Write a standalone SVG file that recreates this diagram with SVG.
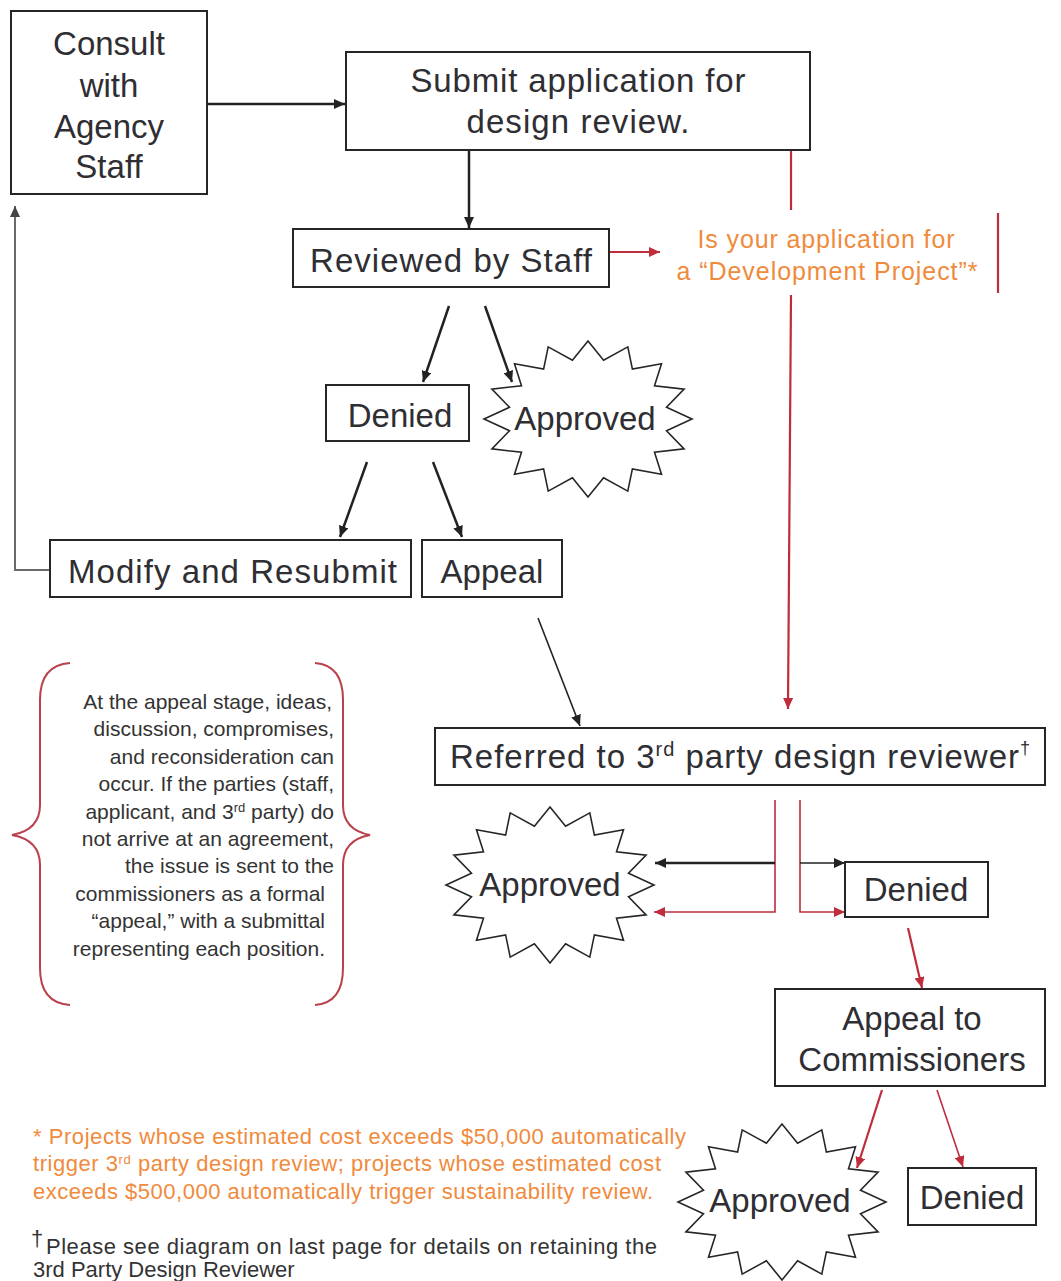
<svg xmlns="http://www.w3.org/2000/svg" width="1061" height="1281" viewBox="0 0 1061 1281">
<style>
.box{fill:#fff;stroke:#262626;stroke-width:2}
.t{font-family:"Liberation Sans",Arial,sans-serif;fill:#2e2e33;font-size:33px}
.c{text-anchor:middle}
.o{font-family:"Liberation Sans",Arial,sans-serif;fill:#f08a3c;font-size:25px}
.n{font-family:"Liberation Sans",Arial,sans-serif;fill:#333;font-size:21px;text-anchor:end}
.f{font-family:"Liberation Sans",Arial,sans-serif;font-size:22px}
.k{fill:none;stroke:#222;stroke-width:2.5}
.k1{fill:none;stroke:#222;stroke-width:1.6}
.r{fill:none;stroke:#bf2c3b;stroke-width:2.2}
.r1{fill:none;stroke:#bf2c3b;stroke-width:1.6}
.g{fill:none;stroke:#6a6a6a;stroke-width:2}
.star{fill:#fff;stroke:#262626;stroke-width:1.6}
.brace{fill:none;stroke:#b8414b;stroke-width:2}
</style>
<defs>
<marker id="ah" markerUnits="userSpaceOnUse" markerWidth="12" markerHeight="10" refX="11" refY="5" orient="auto"><path d="M0,0 L11,5 L0,10 z" fill="#222"/></marker>
<marker id="ahr" markerUnits="userSpaceOnUse" markerWidth="12" markerHeight="10" refX="11" refY="5" orient="auto"><path d="M0,0 L11,5 L0,10 z" fill="#bf2c3b"/></marker>
<marker id="ahg" markerUnits="userSpaceOnUse" markerWidth="12" markerHeight="10" refX="11" refY="5" orient="auto"><path d="M0,0 L11,5 L0,10 z" fill="#444"/></marker>
<path id="starburst" class="star" d="M0,-78 L15.6,-58.8 L39.8,-72.1 L44.4,-49.9 L73.5,-55.2 L66.5,-33.3 L96.1,-29.9 L78.5,-11.7 L104,0 L78.5,11.7 L96.1,29.9 L66.5,33.3 L73.5,55.2 L44.4,49.9 L39.8,72.1 L15.6,58.8 L0,78 L-15.6,58.8 L-39.8,72.1 L-44.4,49.9 L-73.5,55.2 L-66.5,33.3 L-96.1,29.9 L-78.5,11.7 L-104,0 L-78.5,-11.7 L-96.1,-29.9 L-66.5,-33.3 L-73.5,-55.2 L-44.4,-49.9 L-39.8,-72.1 L-15.6,-58.8 Z"/>
</defs>
<rect width="1061" height="1281" fill="#fff"/>

<g id="connectors">
<line class="k" x1="207" y1="104" x2="345" y2="104" marker-end="url(#ah)"/>
<line class="k" x1="469" y1="150" x2="469" y2="228" marker-end="url(#ah)"/>
<line class="r" x1="609" y1="252" x2="660" y2="252" marker-end="url(#ahr)"/>
<line class="r" x1="791" y1="150" x2="791" y2="210"/>
<line class="r" x1="791" y1="295" x2="788" y2="709" marker-end="url(#ahr)"/>
<line class="r" x1="998" y1="213" x2="998" y2="293"/>
<line class="k" x1="449" y1="306" x2="423" y2="382" marker-end="url(#ah)"/>
<line class="k" x1="485" y1="306" x2="512" y2="382" marker-end="url(#ah)"/>
<line class="k" x1="367" y1="462" x2="340" y2="537" marker-end="url(#ah)"/>
<line class="k" x1="433" y1="462" x2="462" y2="537" marker-end="url(#ah)"/>
<polyline class="g" points="50,570 15,570 15,206" marker-end="url(#ahg)"/>
<line class="k1" x1="538" y1="618" x2="580" y2="726" marker-end="url(#ah)"/>
<polyline class="r1" points="775,800 775,912 654,912" marker-end="url(#ahr)"/>
<polyline class="r1" points="800,800 800,912 845,912" marker-end="url(#ahr)"/>
<line class="k" x1="775" y1="863" x2="655" y2="863" marker-end="url(#ah)"/>
<line class="k1" x1="800" y1="863" x2="845" y2="863" marker-end="url(#ah)"/>
<line class="r" x1="908" y1="928" x2="922" y2="988" marker-end="url(#ahr)"/>
<line class="r" x1="882" y1="1090" x2="857" y2="1168" marker-end="url(#ahr)"/>
<line class="r1" x1="937" y1="1090" x2="963" y2="1167" marker-end="url(#ahr)"/>
</g>

<g id="consult">
<rect class="box" x="11" y="11" width="196" height="183"/>
<text class="t c" x="109" y="55">Consult</text>
<text class="t c" x="109" y="97">with</text>
<text class="t c" x="109" y="138">Agency</text>
<text class="t c" x="109" y="178">Staff</text>
</g>

<g id="submit">
<rect class="box" x="346" y="52" width="464" height="98"/>
<text class="t c" x="578" y="92" textLength="335" lengthAdjust="spacing">Submit application for</text>
<text class="t c" x="578" y="133" textLength="223" lengthAdjust="spacing">design review.</text>
</g>

<g id="reviewed">
<rect class="box" x="293" y="229" width="316" height="58"/>
<text class="t c" x="451" y="272" textLength="282" lengthAdjust="spacing">Reviewed by Staff</text>
</g>

<g id="dev-question">
<text class="o c" x="826" y="248" textLength="257" lengthAdjust="spacing">Is your application for</text>
<text class="o c" x="827" y="280" textLength="301" lengthAdjust="spacing">a “Development Project”*</text>
</g>

<g id="denied1">
<rect class="box" x="326" y="385" width="143" height="56"/>
<text class="t c" x="400" y="427">Denied</text>
</g>

<g id="approved1">
<use href="#starburst" x="588" y="419"/>
<text class="t c" x="585" y="430">Approved</text>
</g>

<g id="modify">
<rect class="box" x="50" y="540" width="361" height="57"/>
<text class="t" x="68" y="583" textLength="329" lengthAdjust="spacing">Modify and Resubmit</text>
</g>

<g id="appeal">
<rect class="box" x="422" y="540" width="140" height="57"/>
<text class="t c" x="492" y="583">Appeal</text>
</g>

<g id="note">
<path class="brace" d="M70,663 Q40,665 40,700 L40,805 Q40,830 12,835 Q40,840 40,865 L40,968 Q40,1003 70,1005"/>
<path class="brace" d="M315,663 Q343,665 343,700 L343,805 Q343,830 370,835 Q343,840 343,865 L343,968 Q343,1003 315,1005"/>
<text class="n" x="332" y="709">At the appeal stage, ideas,</text>
<text class="n" x="334" y="736">discussion, compromises,</text>
<text class="n" x="334" y="764">and reconsideration  can</text>
<text class="n" x="334" y="791">occur.  If the parties (staff,</text>
<text class="n" x="334" y="819">applicant, and 3<tspan font-size="13" dy="-7">rd</tspan><tspan dy="7"> party) do</tspan></text>
<text class="n" x="334" y="846">not arrive at an agreement,</text>
<text class="n" x="334" y="873">the issue is sent to the</text>
<text class="n" x="325" y="901">commissioners as a formal</text>
<text class="n" x="325" y="928">“appeal,” with a submittal</text>
<text class="n" x="325" y="956">representing each position.</text>
</g>

<g id="referred">
<rect class="box" x="435" y="728" width="610" height="57"/>
<text class="t" x="450" y="768" font-size="32" textLength="580" lengthAdjust="spacing">Referred to 3<tspan font-size="20" dy="-12">rd</tspan><tspan dy="12"> party design reviewer</tspan><tspan font-size="18" dy="-14">†</tspan></text>
</g>

<g id="approved2">
<use href="#starburst" x="550" y="885"/>
<text class="t c" x="550" y="896">Approved</text>
</g>

<g id="denied2">
<rect class="box" x="845" y="862" width="143" height="55"/>
<text class="t c" x="916" y="901">Denied</text>
</g>

<g id="commissioners">
<rect class="box" x="775" y="989" width="270" height="97"/>
<text class="t c" x="912" y="1030">Appeal to</text>
<text class="t c" x="912" y="1071">Commissioners</text>
</g>

<g id="approved3">
<use href="#starburst" x="782" y="1202"/>
<text class="t c" x="780" y="1212">Approved</text>
</g>

<g id="denied3">
<rect class="box" x="908" y="1168" width="128" height="57"/>
<text class="t c" x="972" y="1209">Denied</text>
</g>

<g id="footnotes">
<text class="f" x="33" y="1144" fill="#f08a3c" textLength="653" lengthAdjust="spacing">* Projects whose estimated cost exceeds $50,000 automatically</text>
<text class="f" x="33" y="1171" fill="#f08a3c" textLength="628" lengthAdjust="spacing">trigger 3<tspan font-size="13" dy="-7">rd</tspan><tspan dy="7"> party design review; projects whose estimated cost</tspan></text>
<text class="f" x="33" y="1199" fill="#f08a3c" textLength="620" lengthAdjust="spacing">exceeds $500,000 automatically trigger sustainability review.</text>
<text class="f" x="31" y="1246" fill="#333" font-size="22">†</text>
<text class="f" x="46" y="1254" fill="#333" textLength="611" lengthAdjust="spacing">Please see diagram on last page for details on retaining the</text>
<text class="f" x="33" y="1277" fill="#333">3rd Party Design Reviewer</text>
</g>
</svg>
